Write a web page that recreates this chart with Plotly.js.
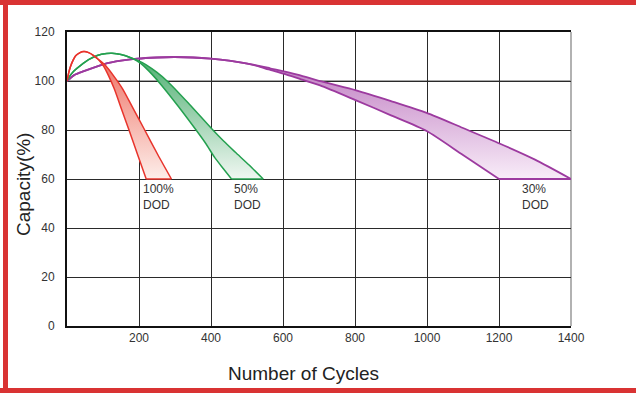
<!DOCTYPE html>
<html>
<head>
<meta charset="utf-8">
<script src="https://cdn.plot.ly/plotly-3.0.1.min.js"></script>
<style>
  html, body { margin: 0; padding: 0; background: #fff; }
  #wrap { position: relative; width: 636px; height: 393px; overflow: hidden; }
  #chart { width: 636px; height: 393px; }
  .bar { position: absolute; background: #d93333; pointer-events: none; }
</style>
</head>
<body>
<div id="wrap">
  <div id="chart"></div>
  <div class="bar" style="left:0;top:0;width:636px;height:5px;"></div>
  <div class="bar" style="left:3px;top:0;width:5px;height:393px;"></div>
  <div class="bar" style="left:0;top:388px;width:636px;height:5px;"></div>
</div>
<script>
// ---- data ----
var xTickVals = [200, 400, 600, 800, 1000, 1200, 1400];
var yTickVals = [0, 20, 40, 60, 80, 100, 120];
var dodLabels = ['100%', '50%', '30%'];

// 100% DOD band (outer = right edge, inner = left edge)
var red100OuterX = [0, 5, 10, 17, 24, 35, 47, 60, 72, 84, 95, 107, 130, 154, 184, 214, 252, 290];
var red100OuterY = [100, 103.5, 106, 108.5, 110.3, 111.5, 112, 111.6, 110.6, 109.2, 107.9, 106.3, 102, 96.9, 88.7, 80.5, 70, 60];
var red100InnerX = [0, 5, 10, 17, 24, 35, 47, 60, 72, 84, 92, 102, 115, 131, 151, 171, 196, 220];
var red100InnerY = [100, 103.5, 106, 108.5, 110.3, 111.5, 112, 111.6, 110.6, 109.2, 108, 106, 102.3, 96.9, 88.7, 80.5, 70, 60];

// 50% DOD band
var green50OuterX = [0, 10, 20, 38, 60, 84, 110, 125, 150, 177, 198, 220, 250, 281, 340, 402, 435, 467, 505, 545];
var green50OuterY = [100, 102.5, 104.2, 106.4, 108.7, 110.4, 111.2, 111.3, 110.8, 109.5, 108.3, 106.6, 103.5, 99.6, 90.5, 80.5, 75.5, 71, 65.8, 60];
var green50InnerX = [0, 10, 20, 38, 60, 84, 110, 125, 150, 177, 193, 212, 237, 263, 310, 356, 385, 411, 435, 457];
var green50InnerY = [100, 102.5, 104.2, 106.4, 108.7, 110.4, 111.2, 111.3, 110.8, 109.5, 108.3, 106.3, 102.6, 98.2, 89.5, 80.5, 74.6, 68.6, 64.1, 60];

// 30% DOD band
var purple30OuterX = [0, 20, 47, 103, 150, 195, 250, 297, 350, 399, 450, 501, 540, 564, 640, 712, 803, 900, 999, 1100, 1203, 1300, 1400];
var purple30OuterY = [100, 102.4, 104, 106.9, 108.3, 109.1, 109.6, 109.8, 109.6, 109.1, 108.3, 107.1, 106, 105.2, 102.6, 99.6, 96.2, 91.8, 87, 80.8, 74.4, 67.9, 60];
var purple30InnerX = [0, 20, 47, 103, 150, 195, 250, 297, 350, 399, 450, 501, 530, 560, 601, 650, 703, 803, 900, 999, 1100, 1200];
var purple30InnerY = [100, 102.4, 104, 106.9, 108.3, 109.1, 109.6, 109.8, 109.6, 109.1, 108.3, 107.1, 106.1, 104.7, 103, 100.7, 98.2, 92.1, 86, 79.6, 69.8, 60];

// ---- build filled bands: smooth outer edge, smooth inner edge filled to it, bottom edge ----
function band(ox, oy, ix, iy, line, lw, cTop, cBottom, label) {
  var ln = { color: line, width: lw, shape: 'spline', smoothing: 0.7 };
  var outer = { type: 'scatter', mode: 'lines', x: ox, y: oy, name: label, line: ln,
    hoverinfo: 'skip', showlegend: false };
  var inner = { type: 'scatter', mode: 'lines', x: ix, y: iy, name: label, line: ln,
    fill: 'tonexty',
    fillgradient: { type: 'vertical', start: 60, stop: Math.max.apply(null, oy),
      colorscale: [[0, cBottom], [1, cTop]] },
    hoverinfo: 'skip', showlegend: false };
  var bottom = { type: 'scatter', mode: 'lines',
    x: [ix[ix.length - 1], ox[ox.length - 1]], y: [iy[iy.length - 1], oy[oy.length - 1]],
    line: { color: line, width: lw }, hoverinfo: 'skip', showlegend: false };
  return [outer, inner, bottom];
}

var traces = [].concat(
  band(purple30OuterX, purple30OuterY, purple30InnerX, purple30InnerY, '#9c3a9f', 1.8, 'rgb(190,122,192)', 'rgb(248,236,248)', dodLabels[2]),
  band(green50OuterX, green50OuterY, green50InnerX, green50InnerY, '#24a04f', 1.5, 'rgb(72,172,108)', 'rgb(240,247,242)', dodLabels[1]),
  band(red100OuterX, red100OuterY, red100InnerX, red100InnerY, '#e8342c', 1.5, 'rgb(238,106,92)', 'rgb(253,238,234)', dodLabels[0])
);

// labels centred under each band's bottom edge
function labelAt(ix, ox, txt) {
  var xc = (ix[ix.length - 1] + ox[ox.length - 1]) / 2;
  return { x: xc, y: 60, xref: 'x', yref: 'y', xanchor: 'center', yanchor: 'top',
    yshift: -1, text: txt + '<br>DOD', align: 'left', showarrow: false,
    font: { family: 'Liberation Sans, Arial, sans-serif', size: 12, color: '#333' } };
}

var font = 'Liberation Sans, Arial, sans-serif';
var layout = {
  width: 636, height: 393,
  margin: { l: 67, r: 65, t: 32, b: 67, pad: 0 },
  paper_bgcolor: '#fff', plot_bgcolor: '#fff',
  font: { family: font, size: 12, color: '#333' },
  xaxis: {
    range: [0, 1400], tickvals: xTickVals, showgrid: true, gridcolor: '#2a2a2a', gridwidth: 1,
    showline: true, linecolor: '#111', linewidth: 2, mirror: true, zeroline: false,
    ticks: '', ticklabelstandoff: 0, tickfont: { family: font, size: 12, color: '#333' }, fixedrange: true
  },
  yaxis: {
    range: [0, 120], tickvals: yTickVals, showgrid: true, gridcolor: '#2a2a2a', gridwidth: 1,
    showline: true, linecolor: '#111', linewidth: 2, zeroline: false,
    ticks: '', ticklabelstandoff: 8, tickfont: { family: font, size: 12, color: '#333' }, fixedrange: true
  },
  shapes: [
    { type: 'line', xref: 'paper', yref: 'y', x0: 0, x1: 1, y0: 100, y1: 100,
      line: { color: '#a8a8a8', width: 2 }, layer: 'between' },
    { type: 'line', xref: 'paper', yref: 'paper', x0: 1, x1: 1, y0: 0, y1: 1,
      line: { color: '#999', width: 1.5 }, layer: 'between' }
  ],
  annotations: [
    labelAt(red100InnerX, red100OuterX, dodLabels[0]),
    labelAt(green50InnerX, green50OuterX, dodLabels[1]),
    labelAt(purple30InnerX, purple30OuterX, dodLabels[2]),
    { text: 'Capacity(%)', xref: 'paper', yref: 'paper', x: -0.085, y: 0.48,
      xanchor: 'center', yanchor: 'middle', textangle: -90, showarrow: false,
      font: { family: font, size: 19, color: '#222' } },
    { text: 'Number of Cycles', xref: 'paper', yref: 'paper', x: 0.47, y: -0.162,
      xanchor: 'center', yanchor: 'middle', showarrow: false,
      font: { family: font, size: 19, color: '#222' } }
  ]
};

Plotly.newPlot('chart', traces, layout, { displayModeBar: false, staticPlot: true });
</script>
</body>
</html>
